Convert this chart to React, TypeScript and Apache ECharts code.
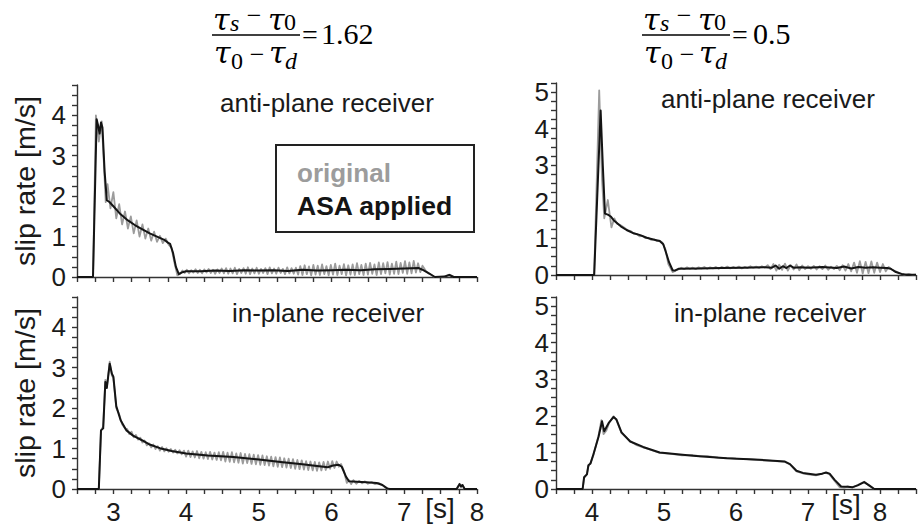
import { useEffect, useRef } from "react";
import * as echarts from "echarts";

type Pt = [number, number];

// Expand an evenly sampled stretch of a trace into [time, value] pairs.
const sampled = (t0: number, dt: number, vals: number[]): Pt[] =>
  vals.map((v, i) => [Math.round((t0 + i * dt) * 1000) / 1000, v] as Pt);

// ---------- anti-plane receiver, (τs−τ0)/(τ0−τd) = 1.62 ----------
const tlAsa: Pt[] = [
  [2.5, 0], [2.72, 0], [2.77, 3.9], [2.79, 3.75], [2.81, 3.55], [2.83, 3.82], [2.85, 3.7],
  [2.88, 2.6], [2.91, 1.9], [2.95, 1.85], [3.0, 1.75], [3.1, 1.55], [3.2, 1.4], [3.3, 1.28],
  [3.4, 1.18], [3.5, 1.08], [3.6, 1.0], [3.7, 0.92], [3.75, 0.85], [3.78, 0.82], [3.82, 0.6],
  [3.86, 0.25], [3.9, 0.07], [3.95, 0.12], [4.0, 0.14], [4.2, 0.14], [4.4, 0.16], [4.6, 0.15],
  [4.8, 0.17], [5.0, 0.16], [5.2, 0.17], [5.4, 0.15], [5.6, 0.18], [5.8, 0.16], [6.0, 0.17],
  [6.2, 0.18], [6.4, 0.17], [6.6, 0.19], [6.8, 0.2], [7.0, 0.21], [7.2, 0.22], [7.25, 0.18],
  [7.35, 0.08], [7.42, 0.0], [7.55, 0.01], [7.62, 0.05], [7.68, 0.0], [8.0, 0.0],
];
const tlOrigHead: Pt[] = [
  [2.5, 0], [2.72, 0], [2.76, 4.0], [2.8, 3.35], [2.84, 3.85], [2.87, 2.8], [2.895, 1.85], [2.92, 2.3],
];
const tlOrigRinging = [
  1.7, 2.1, 1.45, 1.8, 1.3, 1.62, 1.2, 1.5, 1.08, 1.4, 1.0, 1.3, 0.95, 1.2, 0.9, 1.12, 0.87, 1.02,
  0.84, 0.95, 0.8, 0.72, 0.35, 0.04,
];
const tlOrigTail = [
  0.08, 0.16, 0.10, 0.18, 0.09, 0.17, 0.11, 0.19, 0.10, 0.18, 0.09, 0.19, 0.11, 0.20, 0.10, 0.18,
  0.08, 0.19, 0.10, 0.21, 0.09,
  0.22, 0.08, 0.21, 0.09, 0.23, 0.07, 0.20, 0.10, 0.22, 0.08, 0.24, 0.07, 0.21, 0.09, 0.23, 0.08,
  0.20, 0.10, 0.22, 0.07, 0.24, 0.09, 0.21, 0.08, 0.23, 0.10, 0.20, 0.07, 0.24, 0.09, 0.22, 0.08, 0.23,
  0.06, 0.27, 0.05, 0.29, 0.07, 0.26, 0.04, 0.30, 0.06, 0.28, 0.05, 0.31, 0.07, 0.27, 0.04, 0.30,
  0.06, 0.33, 0.05, 0.28, 0.07, 0.32, 0.04, 0.29, 0.06, 0.31, 0.05, 0.34, 0.07, 0.30, 0.05,
  0.33, 0.06, 0.35, 0.08, 0.31, 0.05, 0.36, 0.07, 0.34, 0.09, 0.37, 0.06, 0.33, 0.08, 0.38, 0.07,
  0.35, 0.10, 0.39, 0.08, 0.36, 0.09, 0.40, 0.11, 0.34, 0.12, 0.28,
];
const tlOrigEnd: Pt[] = [
  [7.3, 0.14], [7.38, 0.04], [7.42, 0], [7.55, 0.01], [7.62, 0.06], [7.68, 0], [8.0, 0],
];

// ---------- in-plane receiver, ratio 1.62 ----------
const blAsa: Pt[] = [
  [2.5, 0], [2.8, 0], [2.83, 1.45], [2.86, 1.5], [2.89, 2.65], [2.91, 2.5], [2.95, 3.1], [2.98, 2.85],
  [3.0, 2.78], [3.04, 2.05], [3.1, 1.7], [3.18, 1.45], [3.27, 1.32], [3.4, 1.2], [3.5, 1.1],
  [3.64, 1.01], [3.8, 0.94], [4.0, 0.88], [4.3, 0.83], [4.65, 0.79], [5.0, 0.73], [5.3, 0.67],
  [5.6, 0.61], [5.8, 0.57], [5.95, 0.54], [6.02, 0.58], [6.1, 0.6], [6.14, 0.55], [6.2, 0.3],
  [6.24, 0.19], [6.35, 0.18], [6.48, 0.17], [6.62, 0.15], [6.7, 0.1], [6.77, 0.01], [6.8, 0],
  [7.72, 0], [7.76, 0.12], [7.78, 0.06], [7.8, 0.1], [7.83, 0], [8.0, 0],
];
const blOrigHead: Pt[] = [
  [2.5, 0], [2.8, 0], [2.83, 1.45], [2.86, 1.55], [2.89, 2.7], [2.91, 2.5], [2.95, 3.15], [2.98, 2.8],
  [3.0, 2.75], [3.04, 2.0], [3.08, 1.85], [3.12, 1.6], [3.16, 1.5],
];
const blOrigRinging = [
  1.48, 1.36, 1.42, 1.28, 1.34, 1.22, 1.27, 1.15, 1.2, 1.08, 1.13,
  1.03, 1.1, 0.99, 1.06, 0.95, 1.04, 0.93, 1.01, 0.92, 0.99, 0.9, 0.97, 0.88, 0.96, 0.86, 0.95,
  0.80, 0.95, 0.79, 0.93, 0.78, 0.94, 0.76, 0.92, 0.75, 0.91, 0.74, 0.92, 0.73, 0.90, 0.72, 0.91, 0.71,
  0.92, 0.68, 0.90, 0.67, 0.91, 0.66, 0.88, 0.65, 0.89, 0.63, 0.87, 0.64, 0.86, 0.62, 0.85, 0.61, 0.84,
  0.60, 0.83, 0.59, 0.81, 0.58, 0.80, 0.56, 0.79, 0.55, 0.78, 0.54, 0.76, 0.53, 0.75, 0.52, 0.74, 0.50,
  0.72, 0.49, 0.71, 0.48, 0.69, 0.47, 0.68, 0.46, 0.67, 0.45, 0.66, 0.46, 0.67, 0.47, 0.68, 0.50,
  0.69, 0.52, 0.68, 0.55, 0.62,
];
const blOrigEnd: Pt[] = [
  [6.17, 0.45], [6.21, 0.15], [6.24, 0.22], [6.27, 0.12], [6.3, 0.22], [6.34, 0.13], [6.38, 0.2],
  [6.42, 0.14], [6.46, 0.19], [6.5, 0.13], [6.55, 0.17], [6.6, 0.12], [6.65, 0.15], [6.7, 0.09],
  [6.76, 0.01], [6.8, 0], [7.72, 0], [7.76, 0.13], [7.78, 0.06], [7.8, 0.1], [7.83, 0], [8.0, 0],
];

// ---------- anti-plane receiver, ratio 0.5 ----------
const trAsa: Pt[] = [
  [3.5, 0], [4.03, 0], [4.07, 2.0], [4.12, 4.5], [4.15, 3.0], [4.18, 1.68], [4.22, 1.65], [4.26, 1.6],
  [4.3, 1.5], [4.4, 1.33], [4.48, 1.23], [4.58, 1.14], [4.67, 1.09], [4.76, 1.02], [4.85, 0.97],
  [4.94, 0.93], [4.99, 0.84], [5.03, 0.6], [5.07, 0.35], [5.12, 0.13], [5.15, 0.12], [5.2, 0.17],
  [5.5, 0.18], [5.8, 0.19], [6.1, 0.2], [6.4, 0.21], [6.5, 0.2], [6.55, 0.26], [6.6, 0.17],
  [6.65, 0.24], [6.7, 0.19], [6.75, 0.26], [6.8, 0.2], [6.9, 0.21], [7.0, 0.2], [7.2, 0.22],
  [7.4, 0.19], [7.5, 0.23], [7.6, 0.18], [7.7, 0.22], [7.8, 0.2], [7.9, 0.21], [8.0, 0.2],
  [8.1, 0.19], [8.15, 0.17], [8.22, 0.08], [8.3, 0.03], [8.36, 0.01], [8.5, 0.01],
];
const trOrigHead: Pt[] = [
  [3.5, 0], [4.03, 0], [4.1, 5.05], [4.14, 2.6], [4.17, 1.55], [4.22, 2.05], [4.27, 1.3], [4.31, 1.55],
  [4.35, 1.4], [4.38, 1.38], [4.42, 1.33], [4.46, 1.28], [4.5, 1.22], [4.54, 1.2], [4.58, 1.13],
  [4.62, 1.12], [4.66, 1.06], [4.7, 1.07], [4.74, 1.01], [4.78, 1.02], [4.82, 0.96], [4.86, 0.98],
  [4.9, 0.93], [4.94, 0.94], [4.98, 0.88], [5.02, 0.7], [5.06, 0.3], [5.12, 0.08], [5.16, 0.12],
];
const trOrigRinging = [
  0.15, 0.2, 0.16, 0.21, 0.17, 0.2, 0.16, 0.21, 0.18, 0.22, 0.17, 0.21, 0.18, 0.22, 0.17, 0.22,
  0.19, 0.23, 0.18, 0.22, 0.19, 0.23, 0.18, 0.22, 0.19, 0.24, 0.2, 0.23, 0.19, 0.24, 0.2,
  0.27, 0.16, 0.3, 0.12, 0.28, 0.14, 0.31, 0.12, 0.27, 0.15, 0.29, 0.13, 0.26, 0.16, 0.24,
  0.17, 0.25, 0.15, 0.24, 0.16, 0.26, 0.14, 0.23, 0.16, 0.25, 0.13, 0.27, 0.12, 0.3, 0.1,
  0.34, 0.06, 0.38, 0.04, 0.36, 0.05, 0.37, 0.06, 0.34, 0.08, 0.3, 0.1, 0.22, 0.15,
];
const trOrigEnd: Pt[] = [
  [8.22, 0.1], [8.28, 0.04], [8.34, 0.01], [8.4, 0.03], [8.45, 0.0], [8.5, 0.01],
];

// ---------- in-plane receiver, ratio 0.5 ----------
const brAsa: Pt[] = [
  [3.5, 0], [3.87, 0], [3.89, 0.32], [3.93, 0.4], [3.95, 0.65], [3.98, 0.7], [4.02, 0.95],
  [4.09, 1.42], [4.14, 1.85], [4.17, 1.58], [4.23, 1.8], [4.3, 1.97], [4.34, 1.9], [4.41, 1.55],
  [4.53, 1.3], [4.71, 1.15], [4.94, 1.0], [5.4, 0.91], [5.87, 0.84], [6.33, 0.8], [6.68, 0.75],
  [6.75, 0.68], [6.84, 0.5], [6.93, 0.44], [7.11, 0.39], [7.2, 0.42], [7.25, 0.45], [7.3, 0.42],
  [7.37, 0.25], [7.46, 0.07], [7.55, 0.06], [7.62, 0.05], [7.69, 0.1], [7.78, 0.19], [7.85, 0.1],
  [7.92, 0], [8.5, 0],
];
const brOrig: Pt[] = [
  [3.5, 0], [3.87, 0], [3.89, 0.3], [3.93, 0.42], [3.95, 0.62], [3.98, 0.72], [4.02, 0.93],
  [4.09, 1.45], [4.13, 1.88], [4.16, 1.5], [4.2, 1.6], [4.24, 1.82], [4.3, 1.99], [4.34, 1.88],
  [4.41, 1.53], [4.53, 1.31], [4.62, 1.2], [4.71, 1.14], [4.8, 1.08], [4.94, 0.99], [5.1, 0.96],
  [5.25, 0.92], [5.4, 0.93], [5.5, 0.89], [5.6, 0.9], [5.75, 0.86], [5.87, 0.85], [6.0, 0.83],
  [6.15, 0.82], [6.33, 0.79], [6.5, 0.77], [6.68, 0.74], [6.75, 0.67], [6.84, 0.48], [6.93, 0.43],
  [7.0, 0.4], [7.11, 0.37], [7.2, 0.43], [7.25, 0.44], [7.3, 0.4], [7.37, 0.22], [7.44, 0.05],
  [7.5, 0.03], [7.55, 0.07], [7.62, 0.04], [7.69, 0.11], [7.78, 0.2], [7.85, 0.09], [7.92, 0],
  [8.5, 0],
];

const tlOrig: Pt[] = [
  ...tlOrigHead, ...sampled(2.96, 0.04, tlOrigRinging), ...sampled(3.92, 0.03, tlOrigTail), ...tlOrigEnd,
];
const blOrig: Pt[] = [...blOrigHead, ...sampled(3.19, 0.03, blOrigRinging), ...blOrigEnd];
const trOrig: Pt[] = [...trOrigHead, ...sampled(5.2, 0.04, trOrigRinging), ...trOrigEnd];

const panelLabels = ["anti-plane receiver", "in-plane receiver"];
const ratioValues = ["1.62", "0.5"];
const legendNames = ["original", "ASA applied"];

const SANS = "'Liberation Sans', Arial, Helvetica, sans-serif";
const SERIF = "'Liberation Serif', 'Times New Roman', serif";
const TAU_FONT = "'DejaVu Serif', 'Liberation Serif', serif";
const GRAY = "#9c9c9c";
const INK = "#141414";
const AXIS = "#333333";

const txt = (
  text: string, x: number, y: number, size: number,
  opts: { family?: string; style?: string; weight?: string | number; fill?: string; align?: string; extra?: any } = {}
) => ({
  type: "text",
  x, y,
  ...(opts.extra || {}),
  style: {
    text,
    fontSize: size,
    fontFamily: opts.family || SANS,
    fontStyle: opts.style || "normal",
    fontWeight: opts.weight || "normal",
    fill: opts.fill || "#1a1a1a",
    align: opts.align || "left",
    textAlign: opts.align || "left",
    verticalAlign: "middle",
    textVerticalAlign: "middle",
  },
});

// (τs − τ0)/(τ0 − τd) = value, with its left edge shifted by dx
const ratioFormula = (dx: number, value: string, valueX: number) => [
  txt("τ", 213 + dx, 19, 30, { family: TAU_FONT, style: "italic", fill: "#000" }),
  txt("s", 230 + dx, 23, 24, { family: SERIF, style: "italic", fill: "#000" }),
  txt("−", 254 + dx, 15, 26, { family: SERIF, fill: "#000", align: "center" }),
  txt("τ", 268 + dx, 19, 30, { family: TAU_FONT, style: "italic", fill: "#000" }),
  txt("0", 284 + dx, 22, 24, { family: SERIF, fill: "#000" }),
  {
    type: "line",
    shape: { x1: 212 + dx, y1: 35, x2: 300 + dx, y2: 35 },
    style: { stroke: "#000", lineWidth: 1.5 },
  },
  txt("τ", 214 + dx, 52, 30, { family: TAU_FONT, style: "italic", fill: "#000" }),
  txt("0", 231 + dx, 61, 24, { family: SERIF, fill: "#000" }),
  txt("−", 257 + dx, 54, 26, { family: SERIF, fill: "#000", align: "center" }),
  txt("τ", 269 + dx, 52, 30, { family: TAU_FONT, style: "italic", fill: "#000" }),
  txt("d", 285 + dx, 61, 24, { family: SERIF, style: "italic", fill: "#000" }),
  txt("=", 302 + dx, 34, 28, { family: SERIF, fill: "#000" }),
  txt(value, valueX, 33, 30, { family: SERIF, fill: "#000" }),
];

const grids = [
  { left: 77, top: 85, width: 400, height: 192 },
  { left: 77, top: 297, width: 400, height: 192 },
  { left: 556, top: 83, width: 360, height: 192 },
  { left: 556, top: 297, width: 360, height: 192 },
];

const axisStyle = { lineStyle: { color: AXIS, width: 1.4 } };

const makeX = (gi: number, min: number, max: number, labels: boolean, hideMax: boolean, offset: number) => ({
  type: "value",
  gridIndex: gi,
  min, max,
  splitNumber: 5,
  minInterval: 1,
  maxInterval: 1,
  offset,
  axisLine: { show: true, ...axisStyle },
  axisTick: { show: true, inside: false, length: 5, ...axisStyle },
  minorTick: { show: true, splitNumber: 4, length: 5, ...axisStyle },
  splitLine: { show: false },
  axisLabel: {
    show: labels,
    showMinLabel: false,
    showMaxLabel: !hideMax,
    margin: 5,
    fontSize: 26,
    fontFamily: SANS,
    color: "#1a1a1a",
  },
});

const makeY = (gi: number, max: number, margin: number) => ({
  type: "value",
  gridIndex: gi,
  min: 0,
  max,
  splitNumber: 5,
  minInterval: 1,
  maxInterval: 1,
  axisLine: { show: true, ...axisStyle },
  axisTick: { show: true, inside: false, length: 5, ...axisStyle },
  minorTick: { show: true, splitNumber: 4, length: 5, ...axisStyle },
  splitLine: { show: false },
  axisLabel: {
    showMinLabel: true,
    showMaxLabel: false,
    margin,
    fontSize: 26,
    fontFamily: SANS,
    color: "#1a1a1a",
  },
});

const trace = (data: Pt[], axis: number, color: string, width: number) => ({
  type: "line",
  xAxisIndex: axis,
  yAxisIndex: axis,
  data,
  showSymbol: false,
  symbol: "none",
  lineStyle: { color, width, join: "round" },
  silent: true,
});

export default function App() {
  const ref = useRef<HTMLDivElement>(null);

  useEffect(() => {
    if (!ref.current) return;
    const chart = echarts.init(ref.current, undefined, { renderer: "svg" });

    const yTitle = (cy: number) =>
      txt("slip rate [m/s]", 26, cy, 27, { align: "center", extra: { rotation: Math.PI / 2, scaleX: 1.06 } });

    chart.setOption({
      animation: false,
      backgroundColor: "#ffffff",
      textStyle: { fontFamily: SANS },
      grid: grids.map((g) => ({ ...g, containLabel: false, outerBoundsMode: "none" })),
      xAxis: [
        makeX(0, 2.5, 8, false, false, 4),
        makeX(1, 2.5, 8, true, false, 5),
        makeX(2, 3.5, 8.5, false, true, 4),
        makeX(3, 3.5, 8.5, true, true, 5),
      ],
      yAxis: [makeY(0, 4.75, 11), makeY(1, 4.75, 11), makeY(2, 5.25, 7), makeY(3, 5.25, 7)],
      series: [
        trace(tlOrig, 0, GRAY, 1.8),
        trace(tlAsa, 0, INK, 2),
        trace(blOrig, 1, GRAY, 1.8),
        trace(blAsa, 1, INK, 2),
        trace(trOrig, 2, GRAY, 1.8),
        trace(trAsa, 2, INK, 2),
        trace(brOrig, 3, GRAY, 1.8),
        trace(brAsa, 3, INK, 2),
      ],
      graphic: [
        ...ratioFormula(0, ratioValues[0], 321),
        ...ratioFormula(430, ratioValues[1], 753),
        yTitle(181),
        yTitle(393),
        txt(panelLabels[0], 327, 103, 26, { align: "center" }),
        txt(panelLabels[0], 768, 99, 26, { align: "center" }),
        txt(panelLabels[1], 328, 313, 26, { align: "center" }),
        txt(panelLabels[1], 770, 313, 26, { align: "center" }),
        {
          type: "rect",
          shape: { x: 276, y: 145, width: 198, height: 87 },
          style: { fill: "#ffffff", stroke: "#222222", lineWidth: 2 },
        },
        txt(legendNames[0], 297, 173, 26, { weight: "bold", fill: GRAY }),
        txt(legendNames[1], 297, 206, 26.5, { weight: "bold", fill: INK }),
        txt("[s]", 440, 508, 28, { align: "center" }),
        txt("[s]", 846, 504, 28, { align: "center" }),
      ],
    });

    return () => chart.dispose();
  }, []);

  return (
    <div
      ref={ref}
      style={{ position: "fixed", left: 0, top: 0, width: 919, height: 527, background: "#fff" }}
    />
  );
}
